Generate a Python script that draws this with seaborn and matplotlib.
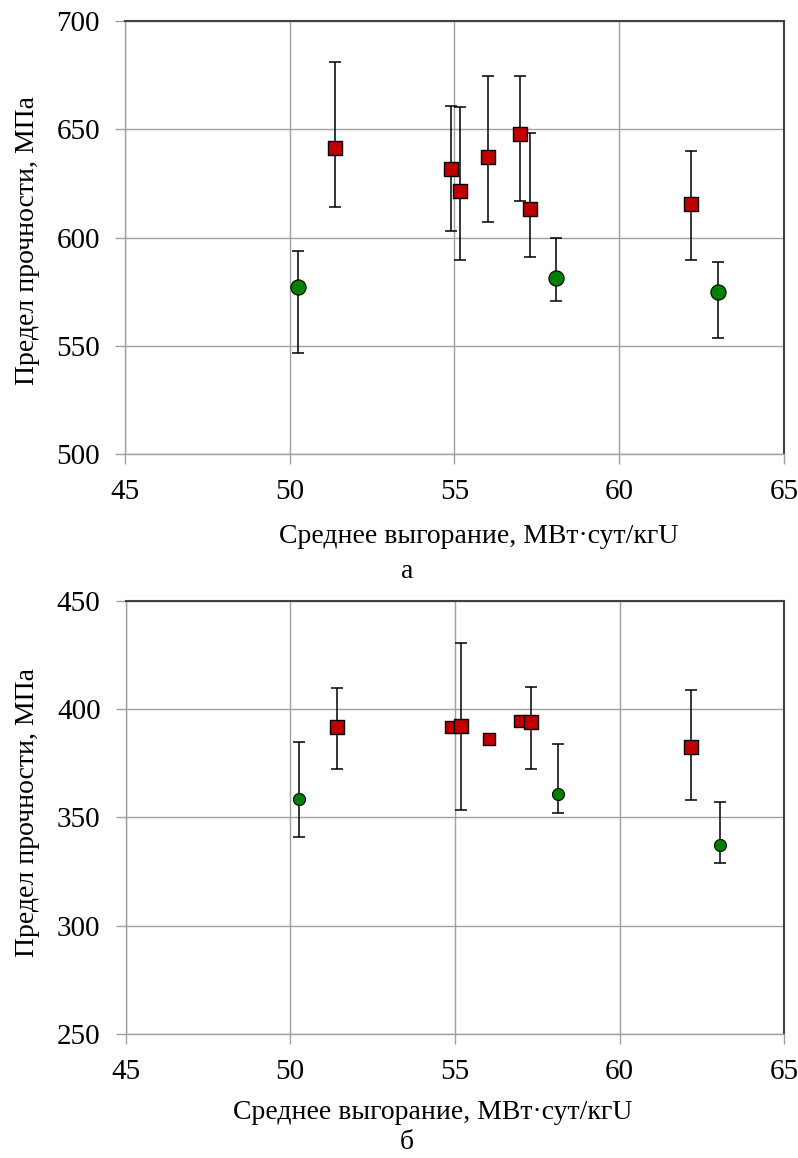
import numpy as np
import pandas as pd
import matplotlib
matplotlib.use("Agg")
import matplotlib.pyplot as plt
import seaborn as sns

# ---- data: panel a ----
a_red_x = [51.37, 54.89, 55.18, 56.02, 56.98, 57.29, 62.17]
a_red_y = [641.6, 631.8, 621.3, 637.3, 648.0, 613.0, 615.6]
a_red_lo = [614.0, 602.9, 589.6, 607.0, 616.7, 590.8, 589.6]
a_red_hi = [681.2, 660.9, 660.1, 674.7, 674.7, 648.4, 639.8]
a_grn_x = [50.24, 58.08, 63.01]
a_grn_y = [577.3, 581.4, 575.0]
a_grn_lo = [546.8, 570.5, 553.7]
a_grn_hi = [593.8, 600.0, 588.7]

# ---- data: panel b ----
b_red_x = [51.41, 54.87, 55.19, 56.03, 56.98, 57.30, 62.18]
b_red_y = [391.7, 391.8, 392.3, 386.3, 394.6, 394.2, 382.3]
b_red_lo = [372.2, np.nan, 353.3, np.nan, np.nan, 372.2, 358.2]
b_red_hi = [409.8, np.nan, 430.3, np.nan, np.nan, 410.0, 408.8]
b_red_big = [True, False, True, False, False, True, True]
b_grn_x = [50.28, 58.13, 63.04]
b_grn_y = [358.5, 360.8, 337.4]
b_grn_lo = [340.8, 352.0, 328.8]
b_grn_hi = [384.8, 384.0, 357.0]

x_ticks = [45, 50, 55, 60, 65]
a_y_ticks = [500, 550, 600, 650, 700]
b_y_ticks = [250, 300, 350, 400, 450]

xlabel = "Среднее выгорание, МВт·сут/кгU"
ylabel = "Предел прочности, МПа"
panel_labels = ["а", "б"]

RED = "#C00000"
GREEN = "#008000"

sns.set_style("whitegrid")
plt.rcParams["font.family"] = ["Liberation Serif", "DejaVu Serif"]
plt.rcParams["text.color"] = "black"
plt.rcParams["xtick.color"] = "black"
plt.rcParams["ytick.color"] = "black"

fig = plt.figure(figsize=(7.98, 11.58), dpi=100)
ax_a = fig.add_axes([0.1566, 0.6079, 0.8258, 0.3739])
ax_b = fig.add_axes([0.1573, 0.1071, 0.8255, 0.3742])


def errbars(ax, x, y, lo, hi):
    y = np.array(y, dtype=float)
    lo = np.array(lo, dtype=float)
    hi = np.array(hi, dtype=float)
    m = ~np.isnan(lo)
    ax.errorbar(np.array(x)[m], y[m], yerr=[y[m] - lo[m], hi[m] - y[m]],
                fmt="none", ecolor="black", elinewidth=1.1, capsize=4,
                capthick=1.1, zorder=3)


def style(ax, yticks):
    ax.set_xlim(45, 65)
    ax.set_ylim(yticks[0], yticks[-1])
    ax.set_xticks(x_ticks)
    ax.set_yticks(yticks)
    ax.grid(True, color="#a0a0a0", linewidth=1.0)
    ax.tick_params(axis="both", which="major", direction="out", length=7,
                   width=1.0, color="#a0a0a0", labelcolor="black",
                   labelsize=21)
    ax.tick_params(axis="y", pad=11)
    ax.tick_params(axis="x", pad=11)
    ax.tick_params(left=True, bottom=True)
    for s in ["left", "bottom"]:
        ax.spines[s].set_color("#a0a0a0")
        ax.spines[s].set_linewidth(1.0)
    for s in ["top", "right"]:
        ax.spines[s].set_color("#404040")
        ax.spines[s].set_linewidth(1.5)
    ax.set_xlabel("")
    ax.set_ylabel("")
    ax.set_axisbelow(True)


# panel a
errbars(ax_a, a_red_x, a_red_y, a_red_lo, a_red_hi)
errbars(ax_a, a_grn_x, a_grn_y, a_grn_lo, a_grn_hi)
sns.scatterplot(x=a_red_x, y=a_red_y, ax=ax_a, marker="s", s=110, color=RED,
                edgecolor="black", linewidth=1.0, zorder=4)
sns.scatterplot(x=a_grn_x, y=a_grn_y, ax=ax_a, marker="o", s=120, color=GREEN,
                edgecolor="black", linewidth=0.8, zorder=4)
style(ax_a, a_y_ticks)

# panel b
errbars(ax_b, b_red_x, b_red_y, b_red_lo, b_red_hi)
errbars(ax_b, b_grn_x, b_grn_y, b_grn_lo, b_grn_hi)
df_b = pd.DataFrame({"x": b_red_x, "y": b_red_y, "big": b_red_big})
sns.scatterplot(data=df_b[~df_b.big], x="x", y="y", ax=ax_b, marker="s", s=80,
                color=RED, edgecolor="black", linewidth=1.0, zorder=4)
sns.scatterplot(data=df_b[df_b.big], x="x", y="y", ax=ax_b, marker="s", s=110,
                color=RED, edgecolor="black", linewidth=1.0, zorder=5)
sns.scatterplot(x=b_grn_x, y=b_grn_y, ax=ax_b, marker="o", s=75, color=GREEN,
                edgecolor="black", linewidth=0.8, zorder=4)
style(ax_b, b_y_ticks)

LBL = 20
fig.text(0.035, 0.7919, ylabel, rotation=90, ha="center", va="center", fontsize=LBL)
fig.text(0.035, 0.298, ylabel, rotation=90, ha="center", va="center", fontsize=LBL)
fig.text(0.600, 0.5311, xlabel, ha="center", va="baseline", fontsize=LBL)
fig.text(0.510, 0.5009, panel_labels[0], ha="center", va="baseline", fontsize=LBL)
fig.text(0.5426, 0.0337, xlabel, ha="center", va="baseline", fontsize=LBL)
fig.text(0.510, 0.0075, panel_labels[1], ha="center", va="baseline", fontsize=LBL)

fig.savefig("out.png", dpi=100, facecolor="white")
